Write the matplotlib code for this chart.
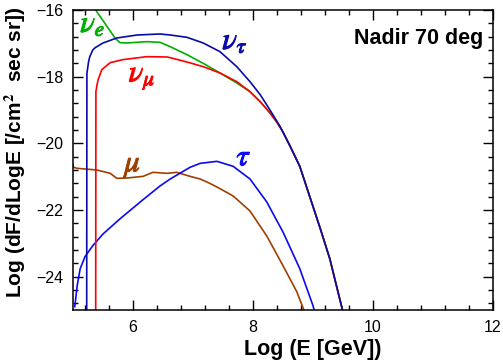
import matplotlib
matplotlib.use("Agg")
import matplotlib.pyplot as plt
import matplotlib.patheffects as pe
from matplotlib.ticker import MultipleLocator

plt.rcParams['font.family'] = ['Liberation Sans', 'DejaVu Sans']
plt.rcParams['mathtext.fontset'] = 'stix'

# nu_tau (dark blue)
nutau_x = [5.228, 5.232, 5.26, 5.28, 5.33, 5.37, 5.5, 5.73, 6.07, 6.45, 6.62, 6.9, 7.17, 7.45,
           7.73, 7.95, 8.12, 8.28, 8.45, 8.62, 8.78, 8.95, 9.12, 9.28, 9.45, 9.52]
nutau_y = [-26.0, -17.9, -17.55, -17.40, -17.2, -17.13, -16.99, -16.84, -16.75, -16.72, -16.75,
           -16.82, -16.99, -17.25, -17.7, -18.15, -18.54, -18.99, -19.49, -20.09, -20.69,
           -21.62, -22.55, -23.46, -24.7, -25.2]

# nu_mu (red)
numu_x = [5.378, 5.382, 5.40, 5.42, 5.48, 5.62, 5.83, 6.23, 6.57, 6.62, 6.9, 7.17, 7.45, 7.73,
          7.95, 8.12, 8.28, 8.4, 8.5, 8.62, 8.78, 8.95, 9.12, 9.28, 9.45, 9.52]
numu_y = [-26.0, -18.45, -18.25, -18.09, -17.79, -17.58, -17.49, -17.40, -17.41, -17.43, -17.56,
          -17.70, -17.89, -18.15, -18.45, -18.75, -19.08, -19.37, -19.66, -20.09, -20.69,
          -21.62, -22.55, -23.46, -24.7, -25.2]

# nu_e (green)
nue_x = [5.33, 5.4, 5.57, 5.7, 5.78, 5.9, 6.23, 6.45, 6.62, 6.9, 7.17, 7.45, 7.73, 7.95, 8.12,
         8.28, 8.4, 8.5, 8.62, 8.78, 8.95, 9.12, 9.28, 9.45, 9.52]
nue_y = [-15.8, -16.06, -16.5, -16.84, -16.98, -16.99, -16.95, -16.97, -17.1, -17.34, -17.6,
         -17.89, -18.19, -18.45, -18.75, -19.08, -19.37, -19.66, -20.09, -20.69, -21.62,
         -22.55, -23.46, -24.7, -25.2]

# tau (blue)
tau_x = [5.03, 5.07, 5.12, 5.2, 5.33, 5.5, 5.78, 6.12, 6.45, 6.62, 6.95, 7.12, 7.4, 7.67,
         7.95, 8.23, 8.5, 8.78, 9.0, 9.05]
tau_y = [-24.9, -24.27, -23.76, -23.4, -23.07, -22.72, -22.27, -21.76, -21.28, -21.07, -20.72,
         -20.6, -20.54, -20.69, -21.07, -21.76, -22.66, -23.76, -24.87, -25.2]

# mu (brown)
mu_x = [5.0, 5.01, 5.07, 5.4, 5.62, 5.73, 5.9, 6.17, 6.33, 6.57, 6.73, 6.95, 7.12, 7.28, 7.4,
        7.67, 7.95, 8.23, 8.5, 8.73, 8.87]
mu_y = [-20.65, -20.72, -20.75, -20.8, -20.9, -21.05, -21.04, -20.99, -20.87, -20.9, -20.87,
        -20.99, -21.07, -21.2, -21.31, -21.58, -22.03, -22.78, -23.67, -24.45, -25.1]

c_nutau = '#0a0aa8'
c_tau = '#0a0af0'
c_red = '#ff0000'
c_green = '#00b000'
c_brown = '#a04000'

fig = plt.figure(figsize=(5.03, 3.62), dpi=100)
ax = fig.add_axes([0.1451, 0.1436, 0.8350, 0.8288])

lw = 1.2
ax.plot(mu_x, mu_y, color=c_brown, lw=lw)
ax.plot(tau_x, tau_y, color=c_tau, lw=lw)
ax.plot(nue_x, nue_y, color=c_green, lw=lw)
ax.plot(numu_x, numu_y, color=c_red, lw=lw)
ax.plot(nutau_x, nutau_y, color=c_nutau, lw=lw)

ax.set_xlim(5, 12)
ax.set_ylim(-25, -16)
ax.xaxis.set_major_locator(MultipleLocator(2))
ax.xaxis.set_minor_locator(MultipleLocator(0.4))
ax.yaxis.set_major_locator(MultipleLocator(2))
ax.yaxis.set_minor_locator(MultipleLocator(0.4))
ax.tick_params(which='both', direction='in', top=True, right=True, width=1.0,
               labelsize=11.5, colors='black')
ax.tick_params(which='major', length=7.2, pad=7)
ax.tick_params(which='minor', length=3.6)
for s in ax.spines.values():
    s.set_linewidth(1.1)

ax.set_xlabel('Log (E [GeV])', fontsize=15.5, fontweight='bold')
ax.xaxis.set_label_coords(0.571, -0.095, transform=ax.transAxes)
ax.xaxis.label.set_va('top')
ax.set_ylabel('Log (dF/dLogE [/cm$^\\mathbf{2}$  sec sr])', fontsize=15,
              fontweight='bold')
ax.yaxis.set_label_coords(-0.108, 0.525, transform=ax.transAxes)

ax.text(0.976, 0.905, 'Nadir 70 deg', transform=ax.transAxes, ha='right', va='center',
        fontsize=15.5, fontweight='bold')

eff = lambda c: [pe.withStroke(linewidth=0.7, foreground=c)]
ax.text(5.33, -16.42, r'$\nu_e$', color=c_green, fontsize=22, ha='center', va='center',
        path_effects=eff(c_green))
ax.text(7.70, -16.93, r'$\nu_\tau$', color=c_nutau, fontsize=22, ha='center', va='center',
        path_effects=eff(c_nutau))
ax.text(6.15, -18.0, r'$\nu_\mu$', color=c_red, fontsize=22, ha='center', va='center',
        path_effects=eff(c_red))
ax.text(6.0, -20.63, r'$\mu$', color=c_brown, fontsize=22, ha='center', va='center',
        path_effects=eff(c_brown))
ax.text(7.85, -20.42, r'$\tau$', color=c_tau, fontsize=22, ha='center', va='center',
        path_effects=eff(c_tau))

fig.savefig('out.png', dpi=100)
